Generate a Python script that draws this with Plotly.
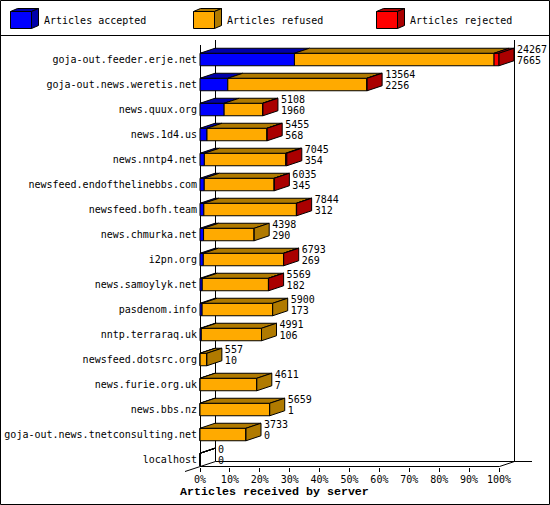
import plotly.graph_objects as go

W, H = 550, 505

servers = ["goja-out.feeder.erje.net", "goja-out.news.weretis.net", "news.quux.org", "news.1d4.us",
           "news.nntp4.net", "newsfeed.endofthelinebbs.com", "newsfeed.bofh.team", "news.chmurka.net",
           "i2pn.org", "news.samoylyk.net", "pasdenom.info", "nntp.terraraq.uk", "newsfeed.dotsrc.org",
           "news.furie.org.uk", "news.bbs.nz", "goja-out.news.tnetconsulting.net", "localhost"]
totals = [24267, 13564, 5108, 5455, 7045, 6035, 7844, 4398, 6793, 5569, 5900, 4991, 557, 4611, 5659, 3733, 0]
accepted = [7665, 2256, 1960, 568, 354, 345, 312, 290, 269, 182, 173, 106, 10, 7, 1, 0, 0]
rejected = [400, 20, 20, 20, 90, 20, 20, 0, 15, 15, 0, 0, 0, 0, 0, 0, 0]
refused = [t - a - r for t, a, r in zip(totals, accepted, rejected)]

BLUE, ORANGE, RED = "#0000ff", "#ffaa00", "#ff0000"
DARK = {BLUE: "#0000aa", ORANGE: "#b07a00", RED: "#aa0000"}
MONO = "DejaVu Sans Mono"

# page pixels <-> axis units, the axes cover the whole page
X0, X100 = 200, 499
ROW0, ROWH = 59.5, 25
ux = 100 / (X100 - X0)
uy = 1 / ROWH
DX, DY = 15 * ux, 5 * uy
HALF = 6.25 * uy

rows = list(range(len(servers)))
scale = 100 / max(totals)


def pct(vals):
    return [v * scale for v in vals]


fig = go.Figure()

# front faces
base = [0] * len(rows)
for vals, col, name in [(accepted, BLUE, "Articles accepted"), (refused, ORANGE, "Articles refused"), (rejected, RED, "Articles rejected")]:
    fig.add_trace(go.Bar(y=rows, x=pct(vals), base=pct(base), orientation="h", width=2 * HALF, name=name,
                         marker=dict(color=col, line=dict(color="black", width=1))))
    base = [b + v for b, v in zip(base, vals)]

# top and side faces
top = {BLUE: ([], []), ORANGE: ([], []), RED: ([], [])}
side = {ORANGE: ([], []), RED: ([], [])}
for i in rows:
    start = 0
    last = ORANGE
    for v, col in [(accepted[i], BLUE), (refused[i], ORANGE), (rejected[i], RED)]:
        if v > 0 or totals[i] == 0:
            a, b = start * scale, (start + v) * scale
            top[col][0].extend([a, b, b + DX, a + DX, a, None])
            top[col][1].extend([i - HALF, i - HALF, i - HALF - DY, i - HALF - DY, i - HALF, None])
            last = col
        start += v
    if totals[i] > 0:
        e = totals[i] * scale
        side[last][0].extend([e, e + DX, e + DX, e, e, None])
        side[last][1].extend([i - HALF, i - HALF - DY, i + HALF - DY, i + HALF, i - HALF, None])

for col, (xs, ys) in list(top.items()) + [(c, p) for c, p in side.items()]:
    fig.add_trace(go.Scatter(x=xs, y=ys, mode="lines", fill="toself", fillcolor=DARK[col],
                             line=dict(color="black", width=1), hoverinfo="skip", showlegend=False))

# the two numbers beside each bar
label_x = [t * scale + DX + 3 * ux for t in totals]
for vals, off in [(totals, -9.5), (accepted, 1.5)]:
    fig.add_trace(go.Scatter(x=label_x, y=[i + off * uy for i in rows], mode="text", text=[str(v) for v in vals],
                             textposition="middle right", textfont=dict(family=MONO, size=10, color="black"),
                             hoverinfo="skip", showlegend=False))


def line(x0, y0, x1, y1):
    return dict(type="line", xref="paper", yref="paper", x0=x0 / W, x1=x1 / W, y0=1 - y0 / H, y1=1 - y1 / H,
                line=dict(color="black", width=1), layer="below")


def poly(pts, col):
    path = "M" + " L".join(f"{x / W},{1 - y / H}" for x, y in pts) + " Z"
    return dict(type="path", xref="paper", yref="paper", path=path, fillcolor=col,
                line=dict(color="black", width=1), layer="below")


shapes = [
    poly([(0.5, 0.5), (549.5, 0.5), (549.5, 504.5), (0.5, 504.5)], "white"),
    line(0, 35.5, 550, 35.5),
    line(200.5, 45, 200.5, 466.5),
    line(215.5, 40, 215.5, 461.5),
    line(514.5, 40, 514.5, 461.5),
    line(215.5, 461.5, 532, 461.5),
    line(200, 466.5, 499.5, 466.5),
    line(185, 471.5, 215.5, 461.5),
    line(499.5, 466.5, 514.5, 461.5),
]

annotations = []
for x, col, name in [(10.5, BLUE, "Articles accepted"), (193.5, ORANGE, "Articles refused"), (376.5, RED, "Articles rejected")]:
    shapes.append(poly([(x, 11.5), (x + 7, 8.5), (x + 28, 8.5), (x + 21, 11.5)], DARK[col]))
    shapes.append(poly([(x + 21, 11.5), (x + 28, 8.5), (x + 28, 25.5), (x + 21, 28.5)], DARK[col]))
    shapes.append(poly([(x, 11.5), (x + 21, 11.5), (x + 21, 28.5), (x, 28.5)], col))
    annotations.append(dict(xref="paper", yref="paper", x=(x + 31.5) / W, y=1 - 20 / H, text=name, showarrow=False,
                            xanchor="left", yanchor="middle", font=dict(family=MONO, size=10, color="black")))
annotations.append(dict(xref="paper", yref="paper", x=274 / W, y=1 - 492 / H, text="<b>Articles received by server</b>",
                        showarrow=False, xanchor="center", yanchor="middle",
                        font=dict(family="Liberation Mono", size=11.67, color="black")))

fig.update_layout(
    width=W, height=H, margin=dict(l=0, r=0, t=0, b=0), paper_bgcolor="white", plot_bgcolor="rgba(0,0,0,0)",
    barmode="overlay", showlegend=False, shapes=shapes, annotations=annotations,
    xaxis=dict(domain=[0, 1], range=[-X0 * ux, (W - X0) * ux], anchor="free", position=1 - 466.5 / H,
               tickvals=list(range(0, 101, 10)), ticktext=[f"{v}%" for v in range(0, 101, 10)],
               ticks="outside", ticklen=4, tickcolor="black", tickwidth=1, ticklabelstandoff=-1,
               showgrid=False, zeroline=False, showline=False,
               tickfont=dict(family=MONO, size=10, color="black")),
    yaxis=dict(domain=[0, 1], range=[(H - ROW0) * uy, -ROW0 * uy], anchor="free", position=X0 / W,
               tickvals=rows, ticktext=servers, ticks="outside", ticklen=1, tickcolor="rgba(0,0,0,0)",
               showgrid=False, zeroline=False, showline=False,
               tickfont=dict(family=MONO, size=10, color="black")),
)

fig.write_html("out.html", config={"displayModeBar": False}, post_script="document.body.style.margin='0';")
